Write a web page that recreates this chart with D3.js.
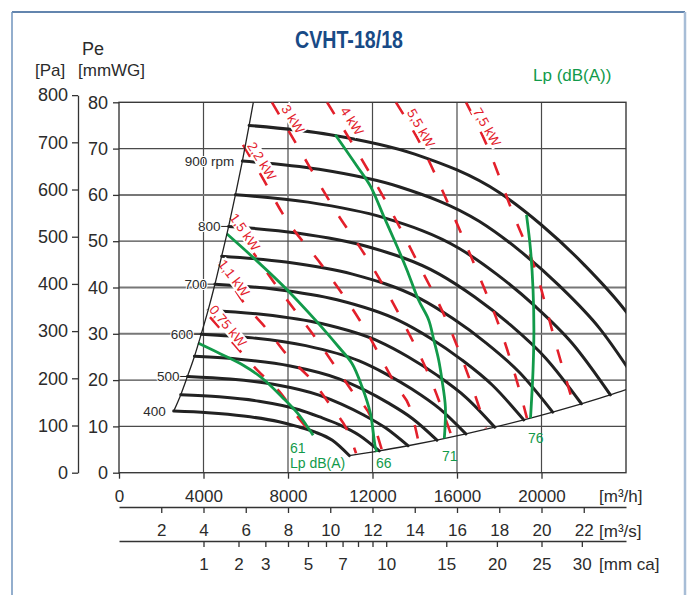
<!DOCTYPE html>
<html><head><meta charset="utf-8">
<script src="https://cdn.jsdelivr.net/npm/d3@7"></script>
<style>
body{margin:0;background:#fff;}
svg{display:block;font-family:"Liberation Sans",Arial,Helvetica,sans-serif;}
</style></head><body>
<svg id="c" width="689" height="595"></svg>
<script>
// ---------------- DATA ----------------
const title = "CVHT-18/18";
const xTicks = [0, 4000, 8000, 12000, 16000, 20000];
const gridQ = [4000, 8000, 12000, 16000, 20000];
const mmTicks = [0, 10, 20, 30, 40, 50, 60, 70, 80];
const gridP = [10, 20, 30, 40, 50, 60, 70];
const paTicks = [0, 100, 200, 300, 400, 500, 600, 700, 800];
const m3sTicks = [2, 4, 6, 8, 10, 12, 14, 16, 18, 20, 22];
const mmcaTicks = [1, 2, 3, 4, 5, 6, 7, 8, 9, 10, 15, 20, 25, 30];
const mmcaLabels = [1, 2, 3, 5, 7, 10, 15, 20, 25, 30];

// fan curves: [flow m3/h, pressure mmWG]
const curve400 = [[2590,13.3],[4210,12.95],[5900,12.25],[7580,11.0],[8420,10.0],[9260,8.8],[10100,7.0],[10900,3.7]];
const curve450 = [[2920,16.83],[4740,16.38],[6630,15.44],[8530,13.6],[9470,12.1],[10420,10.4],[11370,8.1],[12320,4.71]];
const curve500 = [[3240,20.78],[5260,20.22],[7370,19.06],[9470,16.76],[10530,14.82],[11580,12.47],[12630,9.64],[13680,5.82]];
const curve550 = [[3570,25.14],[5790,24.47],[8110,23.06],[10420,20.28],[11580,17.93],[12740,15.08],[13900,11.66],[15050,7.04]];
const curve600 = [[3890,29.92],[6320,29.12],[8840,27.44],[11370,24.13],[12630,21.34],[13900,17.95],[15160,13.88],[16420,8.38]];
const curve650 = [[4220,35.11],[6840,34.17],[9580,32.21],[12320,28.32],[13680,25.05],[15050,21.07],[16420,16.29],[17790,9.83]];
const curve700 = [[4540,40.72],[7370,39.63],[10320,37.35],[13260,32.85],[14740,29.05],[16210,24.43],[17680,18.89],[19160,11.4]];
const curve750 = [[4860,46.75],[7900,45.5],[11050,42.88],[14210,37.71],[15790,33.34],[17370,28.05],[18950,21.69],[20530,13.09]];
const curve800 = [[5190,53.19],[8420,51.77],[11790,48.79],[15160,42.9],[16840,37.94],[18530,31.91],[20210,24.68],[21890,14.89]];
const curve850 = [[5510,60.04],[8950,58.44],[12530,55.08],[16110,48.43],[17890,42.83],[19680,36.02],[21470,27.86],[23260,16.81]];
const curve900 = [[5840,67.31],[9470,65.52],[13260,61.75],[17050,54.3],[18950,48.02],[20840,40.39],[22740,31.23],[24630,18.85]];
const curve950 = [[6160,75.0],[10000,73.0],[14000,68.8],[18000,60.5],[20000,53.5],[22000,45.0],[24000,34.8],[26000,21.0]];
const rpmLabels = [[400,"400"],[500,"500"],[600,"600"],[700,"700"],[800,"800"],[900,"900 rpm"]];

const leftBoundary = [[2590,13.3],[2920,16.8],[3240,20.8],[3570,25.1],[3890,29.9],[4220,35.1],[4540,40.7],[4860,46.8],[5190,53.2],[5510,60.0],[5840,67.3],[6160,75.0],[6360,80.0]];
const bottomBoundary = [[10900,3.7],[12320,4.71],[13680,5.82],[15050,7.04],[16420,8.38],[17790,9.83],[19160,11.4],[20530,13.09],[21890,14.89],[23260,16.81],[24000,17.95]];

// power lines (kW)
const pw075 = [[4310,33.6],[5440,27.8],[6580,22.0],[7670,17.1],[8470,12.0],[9100,8.6]];
const pw11 = [[4730,45.5],[5960,36.4],[6960,31.2],[8050,24.9],[9120,20.0],[10040,14.3],[10940,7.8],[11220,4.2]];
const pw15 = [[5250,55.0],[7340,41.1],[9160,30.0],[11080,17.3],[12020,11.0],[12450,4.8]];
const pw22 = [[5870,70.8],[6770,63.9],[7740,56.0],[9700,44.2],[11530,31.9],[13110,18.8],[13860,12.8],[14200,6.2]];
const pw3 = [[7240,80.0],[8470,70.4],[10230,56.7],[11880,45.3],[13440,32.6],[14820,19.4],[15760,7.7]];
const pw4 = [[9850,80.0],[11080,70.8],[12730,57.8],[14150,45.3],[15530,32.6],[16710,18.7],[17370,9.6]];
const pw55 = [[13110,80.0],[14340,70.4],[15670,57.2],[16990,43.1],[18180,29.3],[19120,15.1],[19310,11.8]];
const pw75 = [[16430,80.0],[17470,70.1],[18650,56.0],[19790,42.7],[20690,27.6],[21540,14.4]];
const powerNames = ["0,75 kW","1,1 kW","1,5 kW","2,2 kW","3 kW","4 kW","5,5 kW","7,5 kW"];

// sound pressure lines Lp dB(A)
const lp61 = [[3740,28.0],[4790,25.7],[5880,23.2],[6780,20.4],[7770,16.1],[8440,12.9],[8860,10.3],[9190,8.1]];
const lp66 = [[5100,51.6],[6370,46.4],[7870,39.9],[9290,33.0],[10390,27.2],[11030,23.6],[11500,18.6],[11900,12.8],[12130,5.6],[12210,4.5]];
const lp71 = [[10240,73.0],[11270,66.2],[11900,61.9],[12530,55.4],[13160,48.9],[13630,43.8],[14180,37.3],[14660,33.0],[14900,28.7],[15130,24.4],[15290,20.0],[15450,14.2],[15400,7.4]];
const lp76 = [[19290,55.7],[19480,48.2],[19600,39.5],[19640,30.8],[19600,22.2],[19480,11.8]];
const lpNames = ["61","66","71","76"];

// ---------------- LAYOUT ----------------
const svg = d3.select("#c");
const FONT = '"Liberation Sans",Arial,Helvetica,sans-serif';
const RED = "#e3202b", GREEN = "#129a4a", INK = "#2b2b2b";
const x = d3.scaleLinear().domain([0, 24000]).range([119, 626]);
const y = d3.scaleLinear().domain([0, 80]).range([472.7, 102.3]);
const yPa = d3.scaleLinear().domain([0, 800]).range([y(0), y(800 / 9.81)]);
const xS = d3.scaleLinear().domain([0, 24]).range([119, 626]);
const xMm = d3.scaleSqrt().domain([0, 36]).range([119, 626]);

// frame
svg.append("line").attr("x1",12).attr("y1",12).attr("x2",685).attr("y2",12).attr("stroke","#2f5d93").attr("stroke-width",1.5);
svg.append("line").attr("x1",12).attr("y1",12).attr("x2",12).attr("y2",595).attr("stroke","#6f93bd").attr("stroke-width",1.5);
svg.append("line").attr("x1",685).attr("y1",12).attr("x2",685).attr("y2",595).attr("stroke","#a7bdd6").attr("stroke-width",2.5);

// title
svg.append("text").attr("x",295).attr("y",48).attr("font-family",'"Liberation Sans Narrow","Arial Narrow",'+FONT)
  .attr("font-weight","bold").attr("font-size",24).attr("fill","#184a86")
  .attr("textLength",108).attr("lengthAdjust","spacingAndGlyphs").text(title);

// axis headings
const head = (t,xx,yy,fs,fill,anchor) => svg.append("text").attr("x",xx).attr("y",yy).attr("font-size",fs)
  .attr("fill",fill||INK).attr("text-anchor",anchor||"start").attr("font-family",FONT).text(t);
head("Pe",82,55,18);
head("[Pa]",35,76,17);
head("[mmWG]",78,76,17);
head("Lp (dB(A))",533,81,17,GREEN);

// grid
const grid = svg.append("g").attr("stroke","#4a4a4a").attr("stroke-width",1.2);
grid.selectAll(".gx").data(gridQ).join("line").attr("x1",d=>x(d)).attr("x2",d=>x(d)).attr("y1",y(0)).attr("y2",y(80));
grid.selectAll(".gy").data(gridP).join("line").attr("y1",d=>y(d)).attr("y2",d=>y(d)).attr("x1",x(0)).attr("x2",x(24000))
  .attr("stroke", d => (d===30||d===40||d===60) ? "#777" : "#4a4a4a").attr("stroke-width", d => (d===30||d===40||d===60) ? 2 : 1.2);
svg.append("rect").attr("x",x(0)).attr("y",y(80)).attr("width",x(24000)-x(0)).attr("height",y(0)-y(80))
  .attr("fill","none").attr("stroke","#3a3a3a").attr("stroke-width",1.4);

function styleAxis(g, fs){
  g.attr("font-family",FONT).attr("font-size",fs);
  g.selectAll("text").attr("fill",INK);
  g.selectAll(".tick line").attr("stroke","#333").attr("stroke-width",1.3);
  g.select(".domain").attr("stroke","#333").attr("stroke-width",1.3);
}
const plain = d3.format("d");
// Pa axis
styleAxis(svg.append("g").attr("transform","translate(78,0)")
  .call(d3.axisLeft(yPa).tickValues(paTicks).tickFormat(plain).tickSize(6).tickSizeOuter(0).tickPadding(4)), 18);
// mmWG axis
const gmm = svg.append("g").attr("transform",`translate(${x(0)},0)`)
  .call(d3.axisLeft(y).tickValues(mmTicks).tickFormat(plain).tickSize(6).tickPadding(5));
styleAxis(gmm,18); gmm.select(".domain").remove();
// m3/h axis
const gx = svg.append("g").attr("transform",`translate(0,${y(0)})`)
  .call(d3.axisBottom(x).tickValues(xTicks).tickFormat(plain).tickSize(6).tickPadding(11));
styleAxis(gx,17); gx.select(".domain").remove();
// m3/s axis
styleAxis(svg.append("g").attr("transform","translate(0,507)")
  .call(d3.axisBottom(xS).tickValues(m3sTicks).tickFormat(plain).tickSize(6).tickSizeOuter(0).tickPadding(11)),17);
// mm ca axis
styleAxis(svg.append("g").attr("transform","translate(0,541)")
  .call(d3.axisBottom(xMm).tickValues(mmcaTicks).tickSize(6).tickSizeOuter(0).tickPadding(11)
    .tickFormat(d => mmcaLabels.includes(d) ? plain(d) : "")),17);
head("[m³/h]",599,502,17);
head("[m³/s]",599,537,17);
head("[mm ca]",599,570,17);

// clip
svg.append("clipPath").attr("id","plot").append("rect")
  .attr("x",x(0)).attr("y",y(80)).attr("width",x(24000)-x(0)).attr("height",y(0)-y(80));
const plot = svg.append("g").attr("clip-path","url(#plot)");

const lineM = d3.line().x(d=>x(d[0])).y(d=>y(d[1])).curve(d3.curveMonotoneX);
const lineC = d3.line().x(d=>x(d[0])).y(d=>y(d[1])).curve(d3.curveCatmullRom.alpha(0.5));

// fan curves
const fanCurves = [[400,curve400],[450,curve450],[500,curve500],[550,curve550],[600,curve600],[650,curve650],
  [700,curve700],[750,curve750],[800,curve800],[850,curve850],[900,curve900],[950,curve950]];
plot.selectAll(".fan").data(fanCurves).join("path").attr("d",d=>lineM(d[1]))
  .attr("fill","none").attr("stroke","#222").attr("stroke-width",3).attr("stroke-linecap","round");
plot.append("path").attr("d",lineM(bottomBoundary)).attr("fill","none").attr("stroke","#222").attr("stroke-width",1.3);

// power lines
const powerLines = [pw075,pw11,pw15,pw22,pw3,pw4,pw55,pw75];
plot.selectAll(".pw").data(powerLines).join("path").attr("d",d=>lineM(d))
  .attr("fill","none").attr("stroke",RED).attr("stroke-width",2.6).attr("stroke-dasharray","14,19");

// sound lines
const lpLines = [lp61,lp66,lp71,lp76];
plot.selectAll(".lp").data(lpLines).join("path").attr("d",d=>lineC(d))
  .attr("fill","none").attr("stroke",GREEN).attr("stroke-width",2.8);

// power labels (with white backing)
const pwLabelPos = [[228,326,50],[234,278,53],[245,232,55],[262,161,58],[293,119,58],[352,121,57],[421,128,60],[487,127,60]];
powerNames.forEach((t,i) => {
  const [px,py,ang] = pwLabelPos[i];
  const g = svg.append("g").attr("transform",`translate(${px},${py}) rotate(${ang})`);
  const txt = g.append("text").attr("text-anchor","middle").attr("dy","0.35em").attr("font-family",FONT)
    .attr("font-size",13.5).attr("fill",RED).text(t);
  const bb = txt.node().getBBox();
  g.insert("rect","text").attr("x",bb.x-1).attr("y",bb.y+1).attr("width",bb.width+2).attr("height",bb.height-2).attr("fill","#fff");
});

// left boundary on top
svg.append("path").attr("d",lineM(leftBoundary)).attr("fill","none").attr("stroke","#222").attr("stroke-width",1.3);

// rpm labels
const curveByRpm = new Map(fanCurves);
rpmLabels.forEach(([r,t]) => {
  const p0 = curveByRpm.get(r)[0];
  const sx = x(p0[0]), sy = y(p0[1]);
  if (r !== 400 && r !== 900) {
    svg.append("line").attr("x1",sx-10).attr("x2",sx).attr("y1",sy).attr("y2",sy).attr("stroke","#222").attr("stroke-width",1);
  }
  svg.append("text").attr("x",sx-8).attr("y",sy).attr("dy","0.35em").attr("text-anchor","end")
    .attr("font-family",FONT).attr("font-size",13.5).attr("fill",INK)
    .attr("stroke","#fff").attr("stroke-width",2).attr("paint-order","stroke").text(t);
});

// Lp labels
const lpLabelPos = [[290,453],[376,468],[442,461],[528,443]];
lpNames.forEach((t,i) => head(t, lpLabelPos[i][0], lpLabelPos[i][1], 14, GREEN));
head("Lp dB(A)",290,468,14,GREEN);
</script>
</body></html>
